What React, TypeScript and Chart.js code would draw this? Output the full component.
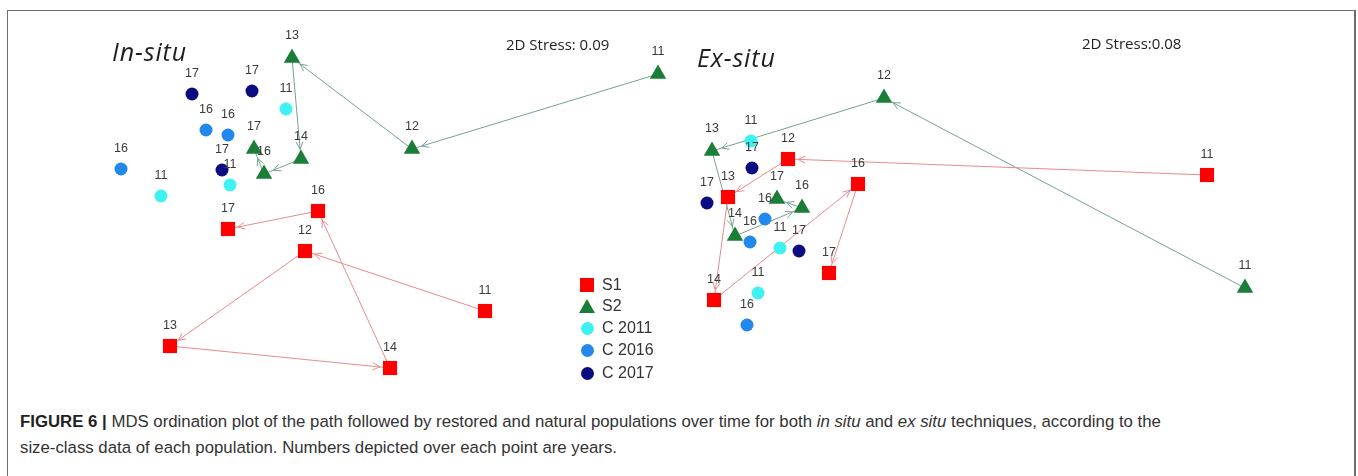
import React, { useEffect, useRef } from "react";
import { Chart, registerables } from "chart.js";

Chart.register(...registerables);

// ---------- data (MDS coordinates) ----------
const years = ["11", "12", "13", "14", "16", "17"];

// In-situ panel
const inS1X = [1.4, -0.4, -1.75, 0.45, -0.27, -1.17];
const inS1Y = [-1.05, -0.45, -1.4, -1.62, -0.05, -0.23];
const inS2X = [3.13, 0.67, -0.53, -0.44, -0.81, -0.91];
const inS2Y = [1.32, 0.57, 1.48, 0.47, 0.32, 0.57];
const inC2011X = [-0.59, -1.15, -1.84];
const inC2011Y = [0.97, 0.21, 0.1];
const inC2016X = [-1.39, -1.17, -2.24];
const inC2016Y = [0.76, 0.71, 0.37];
const inC2017X = [-1.53, -0.93, -1.23];
const inC2017Y = [1.12, 1.15, 0.36];

// Ex-situ panel
const exS1X = [2.07, -2.12, -2.72, -2.86, -1.42, -1.71];
const exS1Y = [0.31, 0.47, 0.09, -0.94, 0.22, -0.67];
const exS2X = [2.45, -1.16, -2.88, -2.65, -1.98, -2.23];
const exS2Y = [-0.82, 1.08, 0.55, -0.3, -0.02, 0.07];
const exC2011X = [-2.49, -2.2, -2.42];
const exC2011Y = [0.65, -0.42, -0.87];
const exC2016X = [-2.35, -2.5, -2.53];
const exC2016Y = [-0.13, -0.36, -1.19];
const exC2017X = [-2.48, -2.93, -2.01];
const exC2017Y = [0.38, 0.03, -0.45];

const legendLabels = ["S1", "S2", "C 2011", "C 2016", "C 2017"];

// ---------- styles ----------
const RED = "#ff0000";
const GREEN = "#1a7d38";
const CYAN = "#3ef2f2";
const BLUE = "#2388ec";
const NAVY = "#0b0b82";
const RED_PATH = "#ea8a8a";
const GREEN_PATH = "#76a28e";

const pts = (xs: number[], ys: number[]) => xs.map((x, i) => ({ x, y: ys[i] }));

const labelPlugin = {
  id: "yearLabels",
  afterDatasetsDraw(chart: any) {
    const ctx = chart.ctx;
    ctx.save();
    ctx.font = "12.5px 'Liberation Sans', Arial, sans-serif";
    ctx.fillStyle = "#3a3a3a";
    ctx.textAlign = "center";
    ctx.textBaseline = "middle";
    chart.data.datasets.forEach((ds: any, di: number) => {
      if (!ds.yearLabels) return;
      const meta = chart.getDatasetMeta(di);
      const off = ds.pointStyle === "triangle" ? 22 : 20;
      meta.data.forEach((el: any, i: number) => {
        ctx.fillText(ds.yearLabels[i], el.x, el.y - off);
      });
    });
    ctx.restore();
  },
};

const arrowPlugin = {
  id: "arrowHeads",
  afterDatasetsDraw(chart: any) {
    const ctx = chart.ctx;
    const xs = chart.scales.x;
    const ys = chart.scales.y;
    chart.data.datasets.forEach((ds: any) => {
      if (!ds.isPath) return;
      ctx.save();
      ctx.strokeStyle = ds.borderColor;
      ctx.lineWidth = 1;
      for (let i = 1; i < ds.data.length; i++) {
        const x0 = xs.getPixelForValue(ds.data[i - 1].x);
        const y0 = ys.getPixelForValue(ds.data[i - 1].y);
        const x1 = xs.getPixelForValue(ds.data[i].x);
        const y1 = ys.getPixelForValue(ds.data[i].y);
        const a = Math.atan2(y1 - y0, x1 - x0);
        const tx = x1 - Math.cos(a) * 10;
        const ty = y1 - Math.sin(a) * 10;
        const L = 8;
        const sp = 0.45;
        ctx.beginPath();
        ctx.moveTo(tx - Math.cos(a - sp) * L, ty - Math.sin(a - sp) * L);
        ctx.lineTo(tx, ty);
        ctx.lineTo(tx - Math.cos(a + sp) * L, ty - Math.sin(a + sp) * L);
        ctx.stroke();
      }
      ctx.restore();
    });
  },
};

function buildDatasets(
  s1x: number[], s1y: number[], s2x: number[], s2y: number[],
  c11x: number[], c11y: number[], c16x: number[], c16y: number[], c17x: number[], c17y: number[]
) {
  const marker = (data: any[], style: string, color: string, r: number, lbls: string[]) => ({
    type: "scatter",
    data,
    pointStyle: style,
    pointRadius: r,
    pointBackgroundColor: color,
    pointBorderColor: color,
    pointBorderWidth: 0,
    showLine: false,
    clip: false,
    order: 1,
    yearLabels: lbls,
  });
  const path = (data: any[], color: string) => ({
    type: "scatter",
    data,
    showLine: true,
    borderColor: color,
    borderWidth: 1,
    pointRadius: 0,
    clip: false,
    order: 10,
    isPath: true,
  });
  return [
    path(pts(s1x, s1y), RED_PATH),
    path(pts(s2x, s2y), GREEN_PATH),
    marker(pts(c11x, c11y), "circle", CYAN, 6.5, c11x.map(() => "11")),
    marker(pts(c16x, c16y), "circle", BLUE, 6.5, c16x.map(() => "16")),
    marker(pts(c17x, c17y), "circle", NAVY, 6.5, c17x.map(() => "17")),
    marker(pts(s1x, s1y), "rect", RED, 10, years),
    marker(pts(s2x, s2y), "triangle", GREEN, 9.5, years),
  ];
}

function Panel(props: { left: number; top: number; width: number; height: number; xmin: number; xmax: number; ymin: number; ymax: number; datasets: any[] }) {
  const ref = useRef<HTMLCanvasElement>(null);
  useEffect(() => {
    if (!ref.current) return;
    const chart = new Chart(ref.current, {
      type: "scatter",
      data: { datasets: props.datasets as any },
      options: {
        responsive: false,
        maintainAspectRatio: false,
        animation: false,
        events: [],
        layout: { padding: 0, autoPadding: false },
        plugins: { legend: { display: false }, tooltip: { enabled: false } },
        scales: {
          x: { type: "linear", min: props.xmin, max: props.xmax, display: false },
          y: { type: "linear", min: props.ymin, max: props.ymax, display: false },
        },
      },
      plugins: [labelPlugin, arrowPlugin],
    } as any);
    return () => chart.destroy();
  }, []);
  return (
    <canvas
      ref={ref}
      width={props.width}
      height={props.height}
      style={{ position: "absolute", left: props.left, top: props.top, width: props.width, height: props.height }}
    />
  );
}

const legendColors = [RED, GREEN, CYAN, BLUE, NAVY];

function LegendMarker({ i }: { i: number }) {
  if (i === 0) return <div style={{ width: 14, height: 14, background: RED }} />;
  if (i === 1)
    return (
      <div style={{ width: 0, height: 0, borderLeft: "8px solid transparent", borderRight: "8px solid transparent", borderBottom: `14px solid ${GREEN}` }} />
    );
  return <div style={{ width: 13, height: 13, borderRadius: "50%", background: legendColors[i] }} />;
}

export default function App() {
  const leftDs = buildDatasets(inS1X, inS1Y, inS2X, inS2Y, inC2011X, inC2011Y, inC2016X, inC2016Y, inC2017X, inC2017Y);
  const rightDs = buildDatasets(exS1X, exS1Y, exS2X, exS2Y, exC2011X, exC2011Y, exC2016X, exC2016Y, exC2017X, exC2017Y);
  const legendY = [285, 306, 328, 350, 373];
  return (
    <div style={{ position: "absolute", left: 0, top: 0, width: 1358, height: 476, background: "#fff", overflow: "hidden" }}>
      <div style={{ position: "absolute", left: 7, top: 9.5, width: 1346, height: 480, borderLeft: "1.5px solid #6e6e6e", borderTop: "1.5px solid #6e6e6e", borderRight: "2px solid #6e6e6e" }} />
      <Panel left={10} top={12} width={670} height={388} xmin={-3.35} xmax={3.35} ymin={-1.94} ymax={1.94} datasets={leftDs} />
      <Panel left={680} top={12} width={673} height={388} xmin={-3.2} xmax={3.53} ymin={-1.94} ymax={1.94} datasets={rightDs} />

      <div style={{ position: "absolute", left: 112, top: 36, font: "italic 25px 'Open Sans', sans-serif", letterSpacing: "0.9px", color: "#1e1e1e", lineHeight: "30px" }}>In-situ</div>
      <div style={{ position: "absolute", left: 697, top: 42, font: "italic 25px 'Open Sans', sans-serif", letterSpacing: "0.9px", color: "#1e1e1e", lineHeight: "30px" }}>Ex-situ</div>
      <div style={{ position: "absolute", left: 506, top: 34, font: "15px 'Open Sans', sans-serif", color: "#222", lineHeight: "20px", whiteSpace: "nowrap" }}>2D Stress: 0.09</div>
      <div style={{ position: "absolute", left: 1082, top: 33, font: "15px 'Open Sans', sans-serif", color: "#222", lineHeight: "20px", whiteSpace: "nowrap" }}>2D Stress:0.08</div>

      {legendLabels.map((t, i) => (
        <div key={t} style={{ position: "absolute", left: 578, top: legendY[i] - 10, height: 20, display: "flex", alignItems: "center" }}>
          <div style={{ width: 18, display: "flex", justifyContent: "center" }}>
            <LegendMarker i={i} />
          </div>
          <span style={{ marginLeft: 6, font: "16px 'Liberation Sans', Arial, sans-serif", color: "#333" }}>{t}</span>
        </div>
      ))}

      <div style={{ position: "absolute", left: 20, top: 409, font: "16.8px 'Liberation Sans', Arial, sans-serif", color: "#333", lineHeight: "26px", whiteSpace: "nowrap" }}>
        <b style={{ color: "#222" }}>FIGURE 6 |</b> MDS ordination plot of the path followed by restored and natural populations over time for both <i>in situ</i> and <i>ex situ</i> techniques, according to the
        <br />
        size-class data of each population. Numbers depicted over each point are years.
      </div>
    </div>
  );
}
